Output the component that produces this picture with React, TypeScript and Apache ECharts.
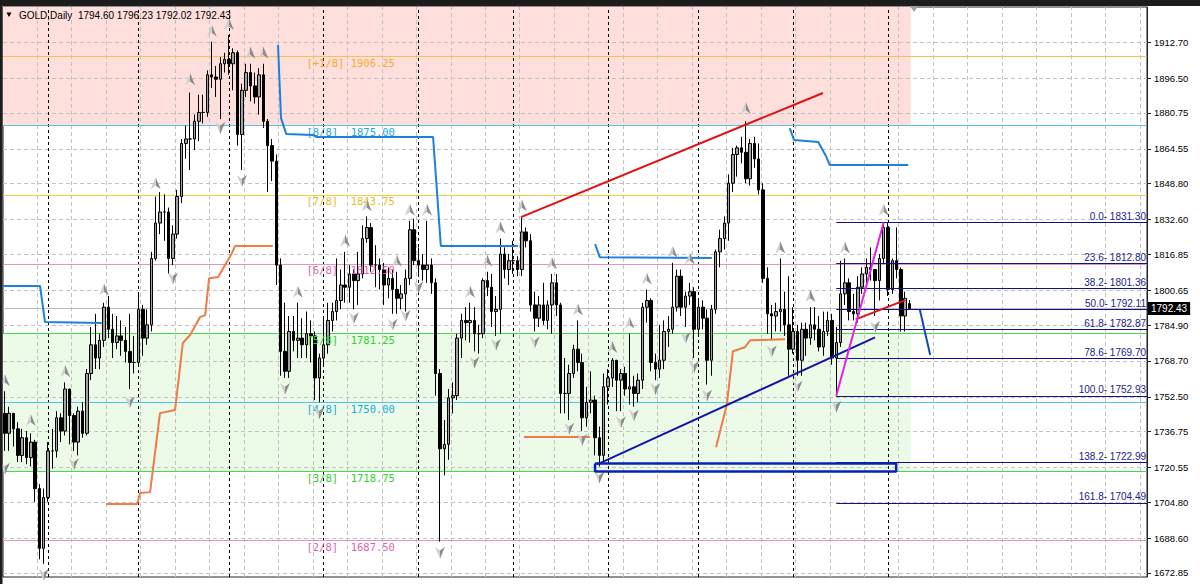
import React, { useEffect, useRef } from "react";
import * as echarts from "echarts";

// ---------------- DATA ----------------
const dates = [
  "2021.03.17","2021.03.18","2021.03.19","2021.03.22","2021.03.23","2021.03.24","2021.03.25","2021.03.26","2021.03.29","2021.03.30","2021.03.31",
  "2021.04.01","2021.04.05","2021.04.06","2021.04.07","2021.04.08","2021.04.09","2021.04.12","2021.04.13","2021.04.14","2021.04.15","2021.04.16","2021.04.19","2021.04.20","2021.04.21","2021.04.22","2021.04.23","2021.04.26","2021.04.27","2021.04.28","2021.04.29","2021.04.30",
  "2021.05.03","2021.05.04","2021.05.05","2021.05.06","2021.05.07","2021.05.10","2021.05.11","2021.05.12","2021.05.13","2021.05.14","2021.05.17","2021.05.18","2021.05.19","2021.05.20","2021.05.21","2021.05.24","2021.05.25","2021.05.26","2021.05.27","2021.05.28","2021.05.31",
  "2021.06.01","2021.06.02","2021.06.03","2021.06.04","2021.06.07","2021.06.08","2021.06.09","2021.06.10","2021.06.11","2021.06.14","2021.06.15","2021.06.16","2021.06.17","2021.06.18","2021.06.21","2021.06.22","2021.06.23","2021.06.24","2021.06.25","2021.06.28","2021.06.29","2021.06.30",
  "2021.07.01","2021.07.02","2021.07.05","2021.07.06","2021.07.07","2021.07.08","2021.07.09","2021.07.12","2021.07.13","2021.07.14","2021.07.15","2021.07.16","2021.07.19","2021.07.20","2021.07.21","2021.07.22","2021.07.23","2021.07.26","2021.07.27","2021.07.28","2021.07.29","2021.07.30",
  "2021.08.02","2021.08.03","2021.08.04","2021.08.05","2021.08.06","2021.08.09","2021.08.10","2021.08.11","2021.08.12","2021.08.13","2021.08.16","2021.08.17","2021.08.18","2021.08.19","2021.08.20","2021.08.23","2021.08.24","2021.08.25","2021.08.26","2021.08.27","2021.08.30","2021.08.31",
  "2021.09.01","2021.09.02","2021.09.03","2021.09.06","2021.09.07","2021.09.08","2021.09.09","2021.09.10","2021.09.13","2021.09.14","2021.09.15","2021.09.16","2021.09.17","2021.09.20","2021.09.21","2021.09.22","2021.09.23","2021.09.24","2021.09.27","2021.09.28","2021.09.29","2021.09.30",
  "2021.10.01","2021.10.04","2021.10.05","2021.10.06","2021.10.07","2021.10.08","2021.10.11","2021.10.12","2021.10.13","2021.10.14","2021.10.15","2021.10.18","2021.10.19","2021.10.20","2021.10.21","2021.10.22","2021.10.25","2021.10.26","2021.10.27","2021.10.28","2021.10.29",
  "2021.11.01","2021.11.02","2021.11.03","2021.11.04","2021.11.05","2021.11.08","2021.11.09","2021.11.10","2021.11.11","2021.11.12","2021.11.15","2021.11.16","2021.11.17","2021.11.18","2021.11.19","2021.11.22","2021.11.23","2021.11.24","2021.11.25","2021.11.26","2021.11.29","2021.11.30",
  "2021.12.01","2021.12.02","2021.12.03","2021.12.06","2021.12.07","2021.12.08","2021.12.09","2021.12.10","2021.12.13","2021.12.14","2021.12.15","2021.12.16","2021.12.17","2021.12.20","2021.12.21","2021.12.22","2021.12.23","2021.12.27","2021.12.28","2021.12.29","2021.12.30","2021.12.31",
  "2022.01.03","2022.01.04","2022.01.05","2022.01.06","2022.01.07","2022.01.10"
];

// [open, high, low, close]
const candles: number[][] = [
  [1731,1748,1727,1745],[1745,1755,1728,1736],[1736,1748,1728,1745],[1745,1745,1730,1738],[1738,1741,1723,1726],[1726,1738,1723,1734],[1734,1737,1722,1725],[1725,1736,1721,1732],[1732,1733,1705,1711],[1711,1713,1679,1684],[1684,1711,1677,1707],
  [1707,1732,1705,1728],[1728,1738,1720,1728],[1728,1746,1725,1743],[1743,1745,1732,1737],[1737,1759,1735,1756],[1756,1756,1731,1744],[1744,1745,1728,1732],[1732,1748,1726,1746],[1746,1750,1734,1736],[1736,1765,1735,1763],[1763,1784,1760,1776],[1776,1790,1765,1770],[1770,1781,1765,1778],[1778,1795,1775,1793],[1793,1798,1779,1783],[1783,1790,1770,1777],[1777,1789,1774,1780],[1780,1787,1771,1778],[1778,1784,1768,1773],[1773,1790,1756,1768],[1768,1780,1763,1768],
  [1768,1799,1766,1792],[1792,1794,1771,1779],[1779,1792,1776,1785],[1785,1818,1782,1815],[1815,1843,1814,1831],[1831,1845,1826,1836],[1836,1844,1823,1836],[1836,1838,1808,1815],[1815,1830,1812,1826],[1826,1846,1824,1843],[1843,1869,1840,1867],[1867,1875,1860,1869],[1869,1890,1855,1869],[1869,1880,1864,1877],[1877,1889,1868,1881],[1881,1889,1876,1881],[1881,1900,1879,1898],[1898,1913,1892,1897],[1897,1902,1888,1896],[1896,1906,1878,1903],[1903,1908,1899,1905],
  [1905,1916,1898,1903],[1903,1910,1891,1908],[1908,1909,1866,1871],[1871,1894,1855,1891],[1891,1903,1888,1899],[1899,1903,1886,1893],[1893,1899,1885,1888],[1888,1901,1880,1898],[1898,1903,1874,1877],[1877,1878,1845,1866],[1866,1869,1850,1859],[1859,1862,1803,1812],[1812,1815,1762,1773],[1773,1795,1761,1764],[1764,1789,1761,1782],[1782,1789,1773,1778],[1778,1795,1770,1779],[1779,1788,1770,1776],[1776,1791,1770,1781],[1781,1787,1768,1780],[1780,1782,1751,1761],[1761,1772,1750,1770],
  [1770,1788,1767,1776],[1776,1795,1772,1787],[1787,1795,1782,1791],[1791,1815,1787,1796],[1796,1810,1792,1803],[1803,1818,1795,1802],[1802,1812,1795,1808],[1808,1810,1792,1805],[1805,1818,1794,1808],[1808,1830,1806,1824],[1824,1834,1822,1829],[1829,1831,1809,1812],[1812,1821,1802,1812],[1812,1815,1801,1810],[1810,1813,1794,1803],[1803,1811,1797,1806],[1806,1810,1790,1801],[1801,1809,1790,1797],[1797,1803,1792,1799],[1799,1810,1791,1806],[1806,1832,1803,1828],[1828,1833,1812,1814],
  [1814,1820,1808,1812],[1812,1817,1805,1810],[1810,1832,1804,1812],[1812,1815,1799,1804],[1804,1806,1753,1763],[1763,1765,1687,1729],[1729,1742,1717,1731],[1731,1756,1724,1752],[1752,1759,1745,1753],[1753,1781,1751,1779],[1779,1790,1770,1787],[1787,1793,1778,1786],[1786,1795,1777,1787],[1787,1793,1773,1781],[1781,1785,1772,1781],[1781,1806,1779,1805],[1805,1809,1798,1802],[1802,1808,1784,1791],[1791,1798,1780,1792],[1792,1824,1781,1817],[1817,1820,1806,1810],[1810,1817,1803,1814],
  [1814,1823,1808,1814],[1814,1816,1807,1810],[1810,1834,1807,1827],[1827,1829,1820,1823],[1823,1826,1791,1794],[1794,1800,1782,1788],[1788,1798,1784,1794],[1794,1804,1785,1787],[1787,1796,1783,1794],[1794,1808,1781,1804],[1804,1808,1789,1794],[1794,1795,1745,1754],[1754,1770,1745,1754],[1754,1767,1742,1763],[1763,1776,1761,1774],[1774,1787,1764,1768],[1768,1772,1737,1743],[1743,1757,1739,1750],[1750,1764,1745,1751],[1751,1753,1726,1734],[1734,1739,1721,1726],[1726,1763,1723,1757],
  [1757,1765,1749,1761],[1761,1770,1757,1769],[1769,1769,1746,1760],[1760,1765,1746,1763],[1763,1766,1753,1756],[1756,1781,1749,1757],[1757,1762,1748,1754],[1754,1763,1750,1760],[1760,1795,1756,1793],[1793,1801,1786,1796],[1796,1797,1764,1768],[1768,1772,1760,1765],[1765,1785,1761,1769],[1769,1787,1765,1782],[1782,1789,1775,1783],[1783,1813,1781,1793],[1793,1810,1791,1807],[1807,1810,1789,1793],[1793,1800,1784,1798],[1798,1804,1794,1800],[1800,1802,1770,1783],
  [1783,1797,1780,1793],[1793,1796,1783,1788],[1788,1792,1758,1769],[1769,1794,1762,1792],[1792,1819,1790,1818],[1818,1828,1811,1824],[1824,1834,1819,1831],[1831,1853,1823,1849],[1849,1865,1845,1862],[1862,1866,1852,1865],[1865,1870,1858,1863],[1863,1877,1849,1851],[1851,1869,1848,1867],[1867,1870,1856,1860],[1860,1867,1844,1846],[1846,1849,1804,1806],[1806,1811,1781,1790],[1790,1794,1778,1789],[1789,1795,1782,1791],[1791,1815,1782,1792],[1792,1800,1780,1785],[1785,1807,1762,1774],
  [1774,1793,1772,1782],[1782,1785,1762,1769],[1769,1786,1762,1783],[1783,1786,1771,1779],[1779,1793,1776,1785],[1785,1793,1778,1783],[1783,1789,1773,1775],[1775,1791,1771,1782],[1782,1791,1780,1787],[1787,1790,1767,1770],[1770,1784,1753,1777],[1777,1814,1775,1799],[1799,1815,1794,1804],[1804,1806,1787,1791],[1791,1799,1787,1790],[1790,1807,1786,1802],[1802,1811,1799,1808],[1808,1815,1804,1811],[1811,1820,1805,1810],[1810,1810,1789,1805],[1805,1817,1796,1815],[1815,1831,1813,1829],
  [1829,1831,1798,1801],[1801,1815,1799,1814],[1814,1829,1806,1810],[1810,1811,1782,1789],[1789,1800,1782,1797],[1794.60,1796.23,1792.02,1792.43]
];

const priceTicks = [1672.85,1688.60,1704.80,1720.55,1736.75,1752.50,1768.70,1784.90,1800.65,1816.85,1832.60,1848.80,1864.55,1880.75,1896.50,1912.70];
const monthStartBars = [11, 32, 53, 75, 97, 119, 141, 162, 184, 206];

const murrayNames = ["[+1/8]","[8/8]","[7/8]","[6/8]","[5/8]","[4/8]","[3/8]","[2/8]"];
const murrayValues = [1906.25, 1875.00, 1843.75, 1812.50, 1781.25, 1750.00, 1718.75, 1687.50];
const murrayLabelBar = 71;
const upperZone = [1875.00, 1928.65];
const lowerZone = [1718.75, 1781.25];
const zoneEndBar = 211.3;

const fibRatios = ["0.0","23.6","38.2","50.0","61.8","78.6","100.0","138.2","161.8"];
const fibPrices = [1831.30, 1812.80, 1801.36, 1792.11, 1782.87, 1769.70, 1752.93, 1722.99, 1704.49];
const fibStartBar = 194;
const fibAnchor = [[194, 1752.93], [205, 1831.30]];

const bidPrice = 1792.43;
const headerText = "GOLD,Daily  1794.60 1796.23 1792.02 1792.43";

const redTrend = [[120.8, 1833.7], [190.9, 1889.8]];
const redShort = [[198.5, 1787.5], [210, 1796.2]];
const navyTrend = [[138.5, 1721.9], [203, 1779.3]];
const navyBox = [[138, 1722.3], [207.9, 1722.3], [207.9, 1718.7], [138, 1718.7], [138, 1722.3]];
const blueProjection = [[213.4, 1791.8], [215.8, 1771.4]];

const blueStepA = [[0.56,1802.6],[9.15,1802.6],[10.3,1786.3],[23.5,1785.8]];
const blueStepB = [[64.4,1911.5],[65.1,1878.4],[66.3,1871.3],[72.5,1870.8],[73.4,1869.9],[100.4,1869.9],[102.2,1820.6],[120.1,1820.6]];
const blueStepC = [[138.0,1821.5],[139.1,1815.6],[165.1,1815.2]];
const blueStepD = [[183.2,1873.9],[184.2,1868.5],[189.8,1867.6],[191.6,1861.3],[192.5,1857.2],[210.7,1857.2]];
const orangeStepA = [[24.5,1704.0],[31.7,1704.0],[32.4,1709.0],[34.7,1709.4],[37.0,1745.1],[40.5,1746.5],[42.3,1776.8],[44.0,1780.4],[46.3,1788.5],[47.5,1789.4],[48.4,1806.1],[50.5,1806.6],[53.7,1817.4],[54.4,1820.6],[63.2,1820.6]];
const orangeStepB = [[121.5,1734.3],[136.8,1734.3]];
const orangeStepC = [[166.1,1729.7],[168.6,1749.1],[170.0,1773.1],[172.8,1774.9],[174.0,1778.0],[182.1,1778.5]];

const fractalUp = [[1,1760],[7,1742],[15,1764],[24,1801],[36,1849],[44,1896],[49,1918],[53,1921],[58,1908],[61,1908],[69,1800],[80,1823],[85,1839],[92,1814],[95,1837],[99,1837],[109,1800],[113,1814],[116,1829],[121,1839],[128,1813],[134,1792],[142,1775],[146,1786],[150,1806],[156,1818],[160,1815],[173,1883],[181,1820],[188,1798],[196,1820],[205,1837]];
const fractalDown = [[1,1720],[10,1672],[17,1722],[30,1750],[40,1806],[51,1874],[56,1850],[66,1756],[74,1745],[82,1788],[91,1785],[94,1789],[97,1802],[102,1682],[110,1768],[115,1776],[124,1777],[132,1738],[135,1733],[139,1716],[144,1741],[147,1744],[152,1756],[159,1779],[161,1766],[164,1753],[179,1773],[185,1757],[194,1748],[203,1784]];

// ---------------- LAYOUT / STYLE ----------------
const XMIN = 0.557, XMAX = 266.13, YMIN = 1671.04, YMAX = 1928.65;
const timeGridStep = 8, timeGridStart = 0.5;
const murrayLineColors = ["#f5bf5a","#52c3ea","#f0cf4a","#e693c0","#44dc44","#52c3ea","#44dc44","#e693c0"];
const murrayTextColors = ["#f2ad2a","#22a8e2","#e9bd1e","#e65fa6","#2ed12e","#22a8e2","#2ed12e","#e65fa6"];

export default function App() {
  const ref = useRef<HTMLDivElement>(null);
  useEffect(() => {
    document.body.style.margin = "0";
    document.body.style.background = "#fff";
    const chart = echarts.init(ref.current!, null, { renderer: "svg" });

    const vGrid: any[] = [];
    for (let v = timeGridStart; v < XMAX; v += timeGridStep) vGrid.push({ xAxis: v });

    const gridLine = { color: "#c2c2c2", type: [4, 3], width: 1 };
    const arrowColor = new echarts.graphic.LinearGradient(0, 0, 1, 0, [
      { offset: 0, color: "#cfcfcf" }, { offset: 0.5, color: "#cfcfcf" },
      { offset: 0.5, color: "#8c8c8c" }, { offset: 1, color: "#8c8c8c" },
    ]);

    const lineSeries = (data: number[][], color: string, width = 2, z = 6) => ({
      type: "line", data, symbol: "none", silent: true, z,
      lineStyle: { color, width }, itemStyle: { color },
    });

    chart.setOption({
      animation: false,
      backgroundColor: "#ffffff",
      grid: { left: 3, right: 53, top: 7, bottom: 7, show: true, borderColor: "#222", borderWidth: 1, backgroundColor: "transparent" },
      xAxis: { type: "value", min: XMIN, max: XMAX, show: false },
      yAxis: {
        type: "value", position: "right", min: YMIN, max: YMAX, scale: true,
        axisLine: { show: true, lineStyle: { color: "#222" } },
        axisTick: { show: true, length: 4, customValues: priceTicks, lineStyle: { color: "#222" } },
        axisLabel: { customValues: priceTicks, formatter: (v: number) => v.toFixed(2), color: "#000", fontSize: 9.5, fontFamily: "Liberation Sans", margin: 7 },
        splitLine: { show: false },
      },
      graphic: [
        { type: "rect", shape: { x: 0, y: 0, width: 1200, height: 6 }, style: { fill: "#1c1c1c" }, z: 100 },
        { type: "rect", shape: { x: 0, y: 0, width: 2.5, height: 584 }, style: { fill: "#1c1c1c" }, z: 100 },
        { type: "polygon", shape: { points: [[6.5, 12.5], [11.5, 12.5], [9, 17]] }, style: { fill: "#000" }, z: 100 },
        { type: "text", x: 19, y: 15, style: { text: headerText, fill: "#000", font: "10px 'Liberation Sans'", verticalAlign: "middle" }, z: 100 },
        { type: "polygon", shape: { points: [[910, 6], [918, 6], [914, 12]] }, style: { fill: "#a0a0a0" }, z: 100 },
      ],
      series: [
        {
          type: "line", data: [], silent: true,
          markLine: {
            z: 1, silent: true, symbol: ["none", "none"], label: { show: false },
            data: [
              ...priceTicks.map((p) => ({ yAxis: p, lineStyle: gridLine })),
              ...vGrid.map((g) => ({ ...g, lineStyle: gridLine })),
              ...monthStartBars.map((b) => ({ xAxis: b, lineStyle: { color: "#000", type: [3, 3], width: 1 } })),
            ],
          },
        },
        {
          type: "line", data: [], silent: true,
          markArea: {
            z: 0, silent: true,
            data: [
              [{ xAxis: XMIN, yAxis: upperZone[0], itemStyle: { color: "#ffdfdc" } }, { xAxis: zoneEndBar, yAxis: upperZone[1] }],
              [{ xAxis: XMIN, yAxis: lowerZone[0], itemStyle: { color: "#ebfbe8" } }, { xAxis: zoneEndBar, yAxis: lowerZone[1] }],
            ],
          },
          markLine: {
            z: 1.5, silent: true, symbol: ["none", "none"], label: { show: false },
            data: [
              ...murrayValues.map((v, i) => ({ yAxis: v, lineStyle: { color: murrayLineColors[i], type: "solid", width: 1.2 } })),
              {
                yAxis: bidPrice, lineStyle: { color: "#bdbdbd", type: "solid", width: 1 },
                label: { show: true, position: "end", distance: 1, formatter: bidPrice.toFixed(2), color: "#fff", backgroundColor: "#000", padding: [2, 3, 1, 3], fontSize: 10, fontFamily: "Liberation Sans" },
              },
            ],
          },
        },
        {
          type: "line", data: [], silent: true,
          markLine: {
            z: 4, silent: true, symbol: ["none", "none"],
            data: fibPrices.map((p, i) => [
              {
                coord: [fibStartBar, p], lineStyle: { color: "#10108a", type: "solid", width: 1 },
                label: { show: true, position: "insideEndTop", distance: [1, 1], formatter: `${fibRatios[i]}- ${p.toFixed(2)}`, color: "#1c1c8a", fontSize: 10, fontFamily: "Liberation Sans" },
              },
              { coord: [XMAX, p] },
            ]),
          },
        },
        {
          type: "scatter", silent: true, symbolSize: 0, z: 4,
          itemStyle: { opacity: 1 },
          data: murrayValues.map((v, i) => ({
            value: [murrayLabelBar, v],
            name: murrayNames[i].padEnd(7, " ") + v.toFixed(2),
            label: { color: murrayTextColors[i] },
          })),
          label: { show: true, opacity: 1, position: [0, 1], align: "left", verticalAlign: "top", formatter: "{b}", fontFamily: "DejaVu Sans Mono", fontSize: 10.5 },
        },
        lineSeries(blueStepA, "#1e7fe0"),
        lineSeries(blueStepB, "#1e7fe0"),
        lineSeries(blueStepC, "#1e7fe0"),
        lineSeries(blueStepD, "#1e7fe0"),
        lineSeries(orangeStepA, "#f07a48"),
        lineSeries(orangeStepB, "#f07a48"),
        lineSeries(orangeStepC, "#f07a48"),
        {
          type: "candlestick", z: 3, silent: true, barWidth: 3,
          encode: { x: 0, y: [1, 2, 3, 4] },
          data: candles.map((c, i) => [i, c[0], c[3], c[2], c[1]]),
          itemStyle: { color: "#a3a3a3", color0: "#000", borderColor: "#000", borderColor0: "#000", borderWidth: 1 },
        },
        {
          type: "scatter", silent: true, z: 7, data: fractalUp,
          symbol: "path://M6 0 L12 13 L6 9 L0 13 Z", symbolSize: [10, 12],
          itemStyle: { color: arrowColor, opacity: 1 },
        },
        {
          type: "scatter", silent: true, z: 7, data: fractalDown,
          symbol: "path://M0 0 L6 4 L12 0 L6 13 Z", symbolSize: [10, 12],
          itemStyle: { color: arrowColor, opacity: 1 },
        },
        lineSeries(redTrend, "#e01010", 2, 8),
        lineSeries(redShort, "#e01010", 2, 8),
        lineSeries(navyTrend, "#1515a5", 2, 8),
        lineSeries(navyBox, "#0a22b4", 2.5, 8),
        lineSeries(fibAnchor, "#e820e8", 2, 8),
        lineSeries(blueProjection, "#1848c0", 2, 8),
      ],
    });
    return () => chart.dispose();
  }, []);
  return <div ref={ref} style={{ width: 1200, height: 584 }} />;
}
